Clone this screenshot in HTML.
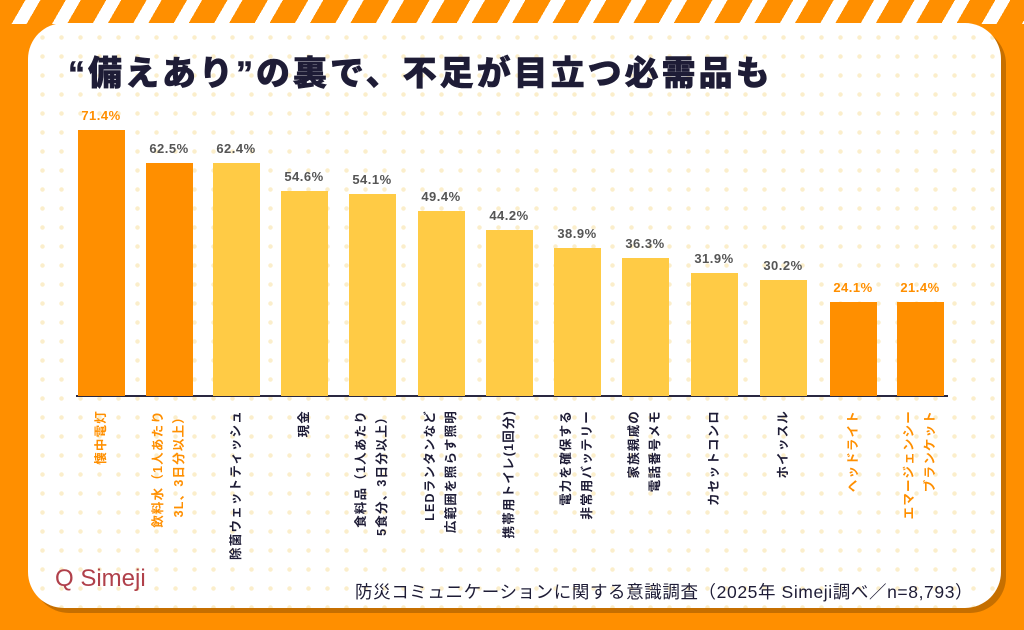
<!DOCTYPE html>
<html><head><meta charset="utf-8"><style>
*{margin:0;padding:0;box-sizing:border-box}
body{width:1024px;height:630px;overflow:hidden;background:#ff8f00;position:relative;font-family:"Liberation Sans","Noto Sans CJK JP",sans-serif}
.stripes{position:absolute;left:0;top:0;width:1024px;height:24px;background:repeating-linear-gradient(120deg,#ff8f00 0 22px,#fff 22px 35px)}
.card{position:absolute;left:28px;top:23px;width:973px;height:585px;border-radius:36px;background-color:#fff;
background-image:radial-gradient(circle,#fbeecb 2px,transparent 2.5px);background-size:19px 19px;background-position:5px 5px;
box-shadow:5px 5px 0 #c66f00}
.title{position:absolute;left:68px;top:46px;font-size:34px;font-weight:900;color:#1e1c36;letter-spacing:3px;-webkit-text-stroke:0.6px #1e1c36}
.bar{position:absolute;width:47px;bottom:234px}
.val{position:absolute;width:70px;text-align:center;font-size:13px;font-weight:bold;color:#555;letter-spacing:0.5px}
.axis{position:absolute;left:76px;top:395px;width:872px;height:2px;background:#2a2840}
.lab{position:absolute;top:410px;width:220px;transform-origin:0 0;transform:rotate(-90deg) translateX(-220px);text-align:right;font-size:12.5px;font-weight:bold;color:#1e1c36;line-height:21px;white-space:nowrap;letter-spacing:1.2px}
.o{color:#ff8f00}
.logo{position:absolute;left:55px;top:565px;font-size:24px;color:#b0404a}
.src{position:absolute;left:355px;top:579px;font-size:17.5px;color:#1e1c36;letter-spacing:0.6px}
</style></head><body>
<div class="stripes"></div>
<div class="card"></div>
<div class="title">“備えあり”の裏で、不足が目立つ必需品も</div>
<div class="axis"></div>
<div id="c"></div>
<div class="logo">Q Simeji</div>
<div class="src">防災コミュニケーションに関する意識調査（2025年 Simeji調べ／n=8,793）</div>
<script>
var d=[[101,130,'71.4%',1,['懐中電灯'],1],[169,163,'62.5%',1,['飲料水（1人あたり','3L、3日分以上）'],0],[236,163,'62.4%',0,['除菌ウェットティッシュ'],0],[304,191,'54.6%',0,['現金'],0],[372,194,'54.1%',0,['食料品（1人あたり','5食分、3日分以上）'],0],[441,211,'49.4%',0,['LEDランタンなど','広範囲を照らす照明'],0],[509,230,'44.2%',0,['携帯用トイレ(1回分)'],0],[577,248,'38.9%',0,['電力を確保する','非常用バッテリー'],0],[645,258,'36.3%',0,['家族親戚の','電話番号メモ'],0],[714,273,'31.9%',0,['カセットコンロ'],0],[783,280,'30.2%',0,['ホイッスル'],0],[853,302,'24.1%',1,['ヘッドライト'],1],[920,302,'21.4%',1,['エマージェンシー','ブランケット'],1]];
var h='';
d.forEach(function(e){var x=e[0],t=e[1],o=e[3];
h+='<div class="bar" style="left:'+(x-23.5)+'px;top:'+t+'px;background:'+(o?'#ff8f00':'#ffcb45')+'"></div>';
h+='<div class="val" style="left:'+(x-35)+'px;top:'+(t-22)+'px;'+(e[5]?'color:#ff8f00':'')+'">'+e[2]+'</div>';
var n=e[4].length,w=n*21;
h+='<div class="lab'+(o?' o':'')+'" style="left:'+(x-w/2)+'px">'+e[4].join('<br>')+'</div>';});
document.getElementById('c').innerHTML=h;
</script>
</body></html>
